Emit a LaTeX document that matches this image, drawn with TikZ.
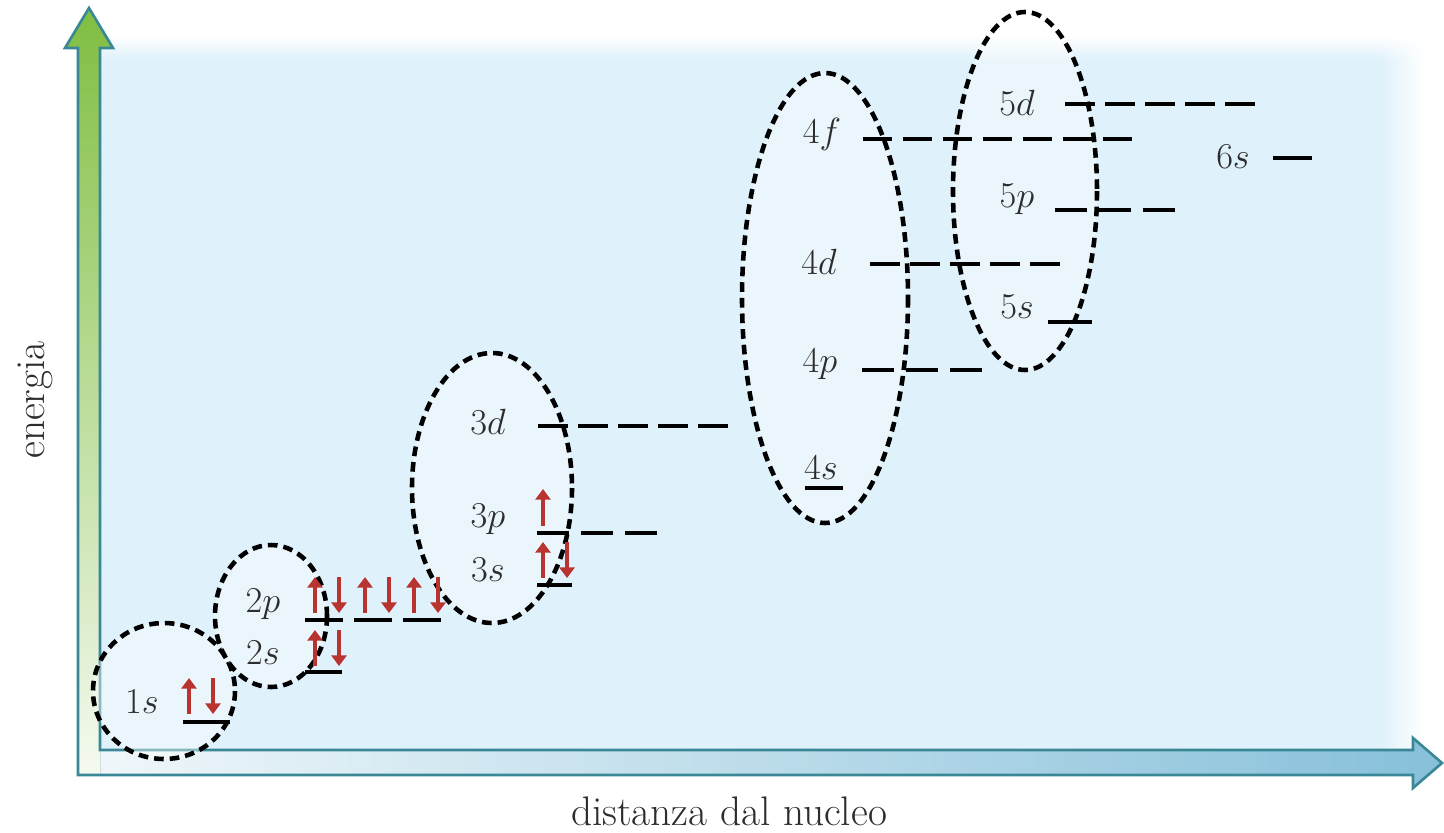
\documentclass[tikz,border=0pt]{standalone}
\usepackage{amsmath}
\usepackage{amssymb}
\usetikzlibrary{arrows.meta,shadings}

\definecolor{sfondo}{RGB}{223,241,251}
\definecolor{bordo}{RGB}{58,136,150}
\definecolor{verde}{RGB}{128,190,66}
\definecolor{azzurro}{RGB}{135,192,218}
\definecolor{rosso}{RGB}{185,52,48}
\definecolor{testo}{RGB}{45,45,45}

\tikzset{
  guscio/.style={draw=black, line width=2.6pt, dash pattern=on 5.5pt off 3.4pt,
                 fill=white, fill opacity=0.4},
  livello/.style={black, line width=2.4pt},
  orb/.style={text=testo, inner sep=0pt, font=\fontsize{21}{25}\selectfont},
  asse/.style={text=testo, font=\fontsize{23.5}{28}\selectfont},
  spin/.style={rosso, line width=1.8pt, -{Triangle[length=6pt,width=8.5pt]}}
}

% coppia di elettroni sopra un orbitale: x, y della base
\newcommand{\coppia}[2]{%
  \draw[spin] (#1,#2) -- ++(0,-36);
  \draw[spin] (#1+24,#2-36) -- ++(0,36);}

\begin{document}
\begin{tikzpicture}[x=0.02cm, y=-0.02cm]
\useasboundingbox (0,0) rectangle (1444,832);

% sfondo azzurro, sfumato in alto e a destra
\fill[sfondo] (100,60) rectangle (1380,750);
\shade[top color=white, bottom color=sfondo] (100,35) rectangle (1380,60);
\shade[left color=sfondo, right color=white] (1380,60) rectangle (1425,750);
\shade[shading=bilinear interpolation, upper left=white, upper right=white,
  lower left=sfondo, lower right=white] (1380,35) rectangle (1425,60);

% assi
\fill[left color=azzurro!12, right color=azzurro] (78,750) -- (1413,750) -- (1413,738)
  -- (1442,763) -- (1413,788) -- (1413,775) -- (78,775) -- cycle;
\fill[top color=verde, bottom color=verde!8] (78,775) -- (78,48) -- (65,48) -- (89,8)
  -- (113,48) -- (100,48) -- (100,775) -- cycle;
\draw[bordo, line width=1.5pt] (100,750) -- (100,48) -- (113,48) -- (89,8) -- (65,48)
  -- (78,48) -- (78,775) -- (1413,775) -- (1413,788) -- (1442,763) -- (1413,738)
  -- (1413,750) -- cycle;

\node[asse, rotate=90] (energia) at (35,400) {energia};
\node[asse] (distanza) at (729,811) {distanza dal nucleo};

% gusci
\draw[guscio] (164,691) ellipse [x radius=71, y radius=68];
\draw[guscio] (271,616) ellipse [x radius=56, y radius=71];
\draw[guscio] (492,488) ellipse [x radius=80, y radius=135];
\draw[guscio] (825,298) ellipse [x radius=83, y radius=225];
\draw[guscio] (1025,191) ellipse [x radius=72, y radius=179];

% livelli: x iniziale / y / numero orbitali / larghezza / passo
\foreach \x/\y/\n/\w/\p in {183/722/1/47/0, 305/672/1/37/0, 305/620/3/38/49,
    537/585/1/35/0, 537/533/3/32/44, 538/426/5/30/40, 805/488/1/38/0,
    862/370/3/32/44, 870/264/5/30/40, 863/139/7/29/40, 1048/322/1/44/0,
    1055/210/3/32/44, 1065/104/5/30/40, 1273/158/1/39/0}
  \foreach \k in {1,...,\n}
    \draw[livello] ({\x+(\k-1)*\p},\y) -- ++(\w,0);

% elettroni
\coppia{189}{714}
\coppia{315}{666}
\coppia{315}{613}
\coppia{365}{613}
\coppia{414}{613}
\coppia{543}{578}
\draw[spin] (543,526) -- ++(0,-37);

% etichette
\node[orb] (o1s) at (142,702) {$1s$};
\node[orb] (o2s) at (263,653) {$2s$};
\node[orb] (o2p) at (263,604) {$2p$};
\node[orb] (o3s) at (488,570) {$3s$};
\node[orb] (o3p) at (488,519) {$3p$};
\node[orb] (o3d) at (488,422) {$3d$};
\node[orb] (o4s) at (821,468) {$4s$};
\node[orb] (o4p) at (820,364) {$4p$};
\node[orb] (o4d) at (819,262) {$4d$};
\node[orb] (o4f) at (822,134) {$4f$};
\node[orb] (o5s) at (1017,307) {$5s$};
\node[orb] (o5p) at (1017,199) {$5p$};
\node[orb] (o5d) at (1017,103) {$5d$};
\node[orb] (o6s) at (1233,157) {$6s$};
\end{tikzpicture}
\end{document}
